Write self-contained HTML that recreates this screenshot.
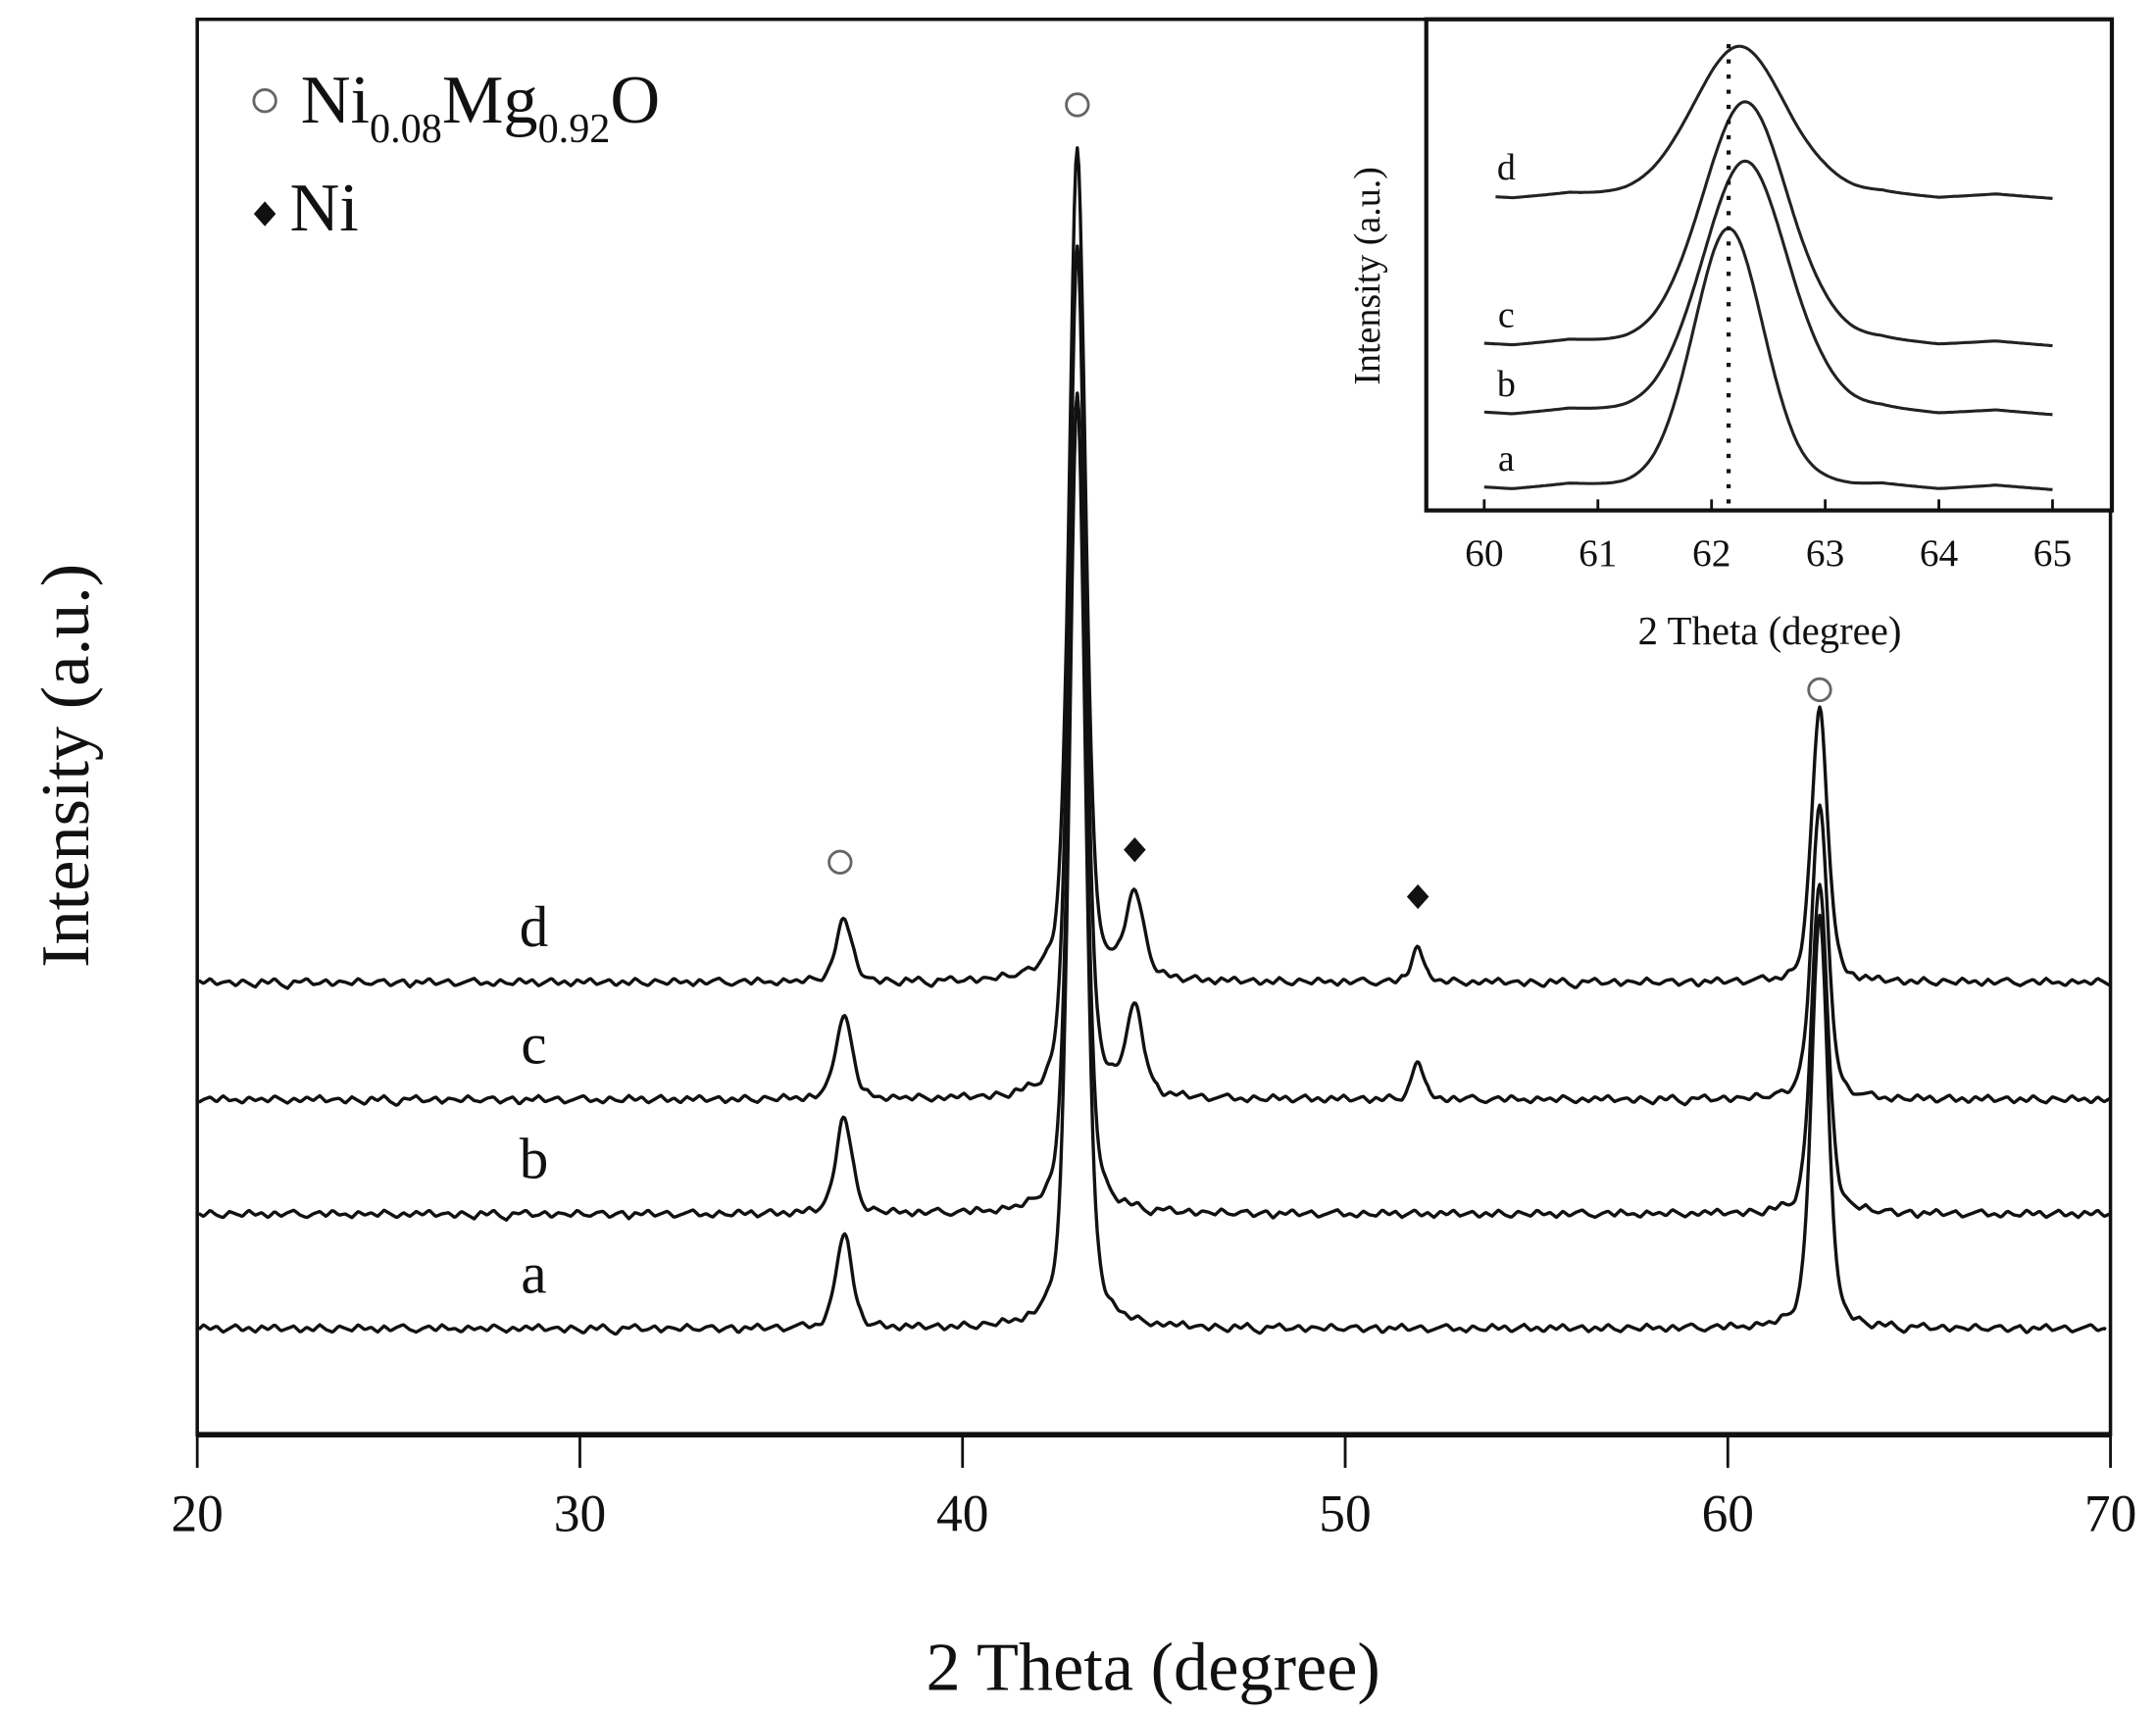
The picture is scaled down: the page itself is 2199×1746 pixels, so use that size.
<!DOCTYPE html>
<html><head><meta charset="utf-8"><style>
html,body{margin:0;padding:0;background:#fff}
svg{display:block}
text{font-family:"Liberation Serif",serif;fill:#111}
</style></head><body>
<svg id="chart" width="2199" height="1746" viewBox="0 0 1563 1241" preserveAspectRatio="none" xmlns="http://www.w3.org/2000/svg">
<rect x="0" y="0" width="1563" height="1241" fill="#fff"/>
<g id="main"></g>
<g id="inset"></g>
</svg>
<script>
// ---- main chart data ----
const seriesNames = ['a','b','c','d'];
const seriesOffsets = [963, 880, 797, 712];
const peakPositions = [36.9, 43.0, 44.5, 51.9, 62.4];
const peakHeightsA = [68, 678, 0, 0, 300];
const peakHeightsB = [70, 595, 0, 0, 240];
const peakHeightsC = [62, 617, 62, 28, 214];
const peakHeightsD = [45, 604, 62, 27, 198];
const peakWidths = [0.5, 0.5, 0.55, 0.35, 0.5];
const wiggle = [2,-3,1,-2,3,0,-3,2,-1,3,-2,1,-3,2,0,-2,3,-1,2,-3,1,3,-2,0,2,-3,1,-1,3,-2,2,-1,-3,1,3,0,-2,2,-3,1,0,3,-2,1,-1,2,-3,0,3,-1,2,-2,1,-3,2,0,-1,3,-2,1,4,-2,1,-3,2,5,-1,0,-3,2,1,-2,3,-1,0,2,-3,1,2,-1,-2,3,0,-2,4,-1,1,-3,2,0,-2,3,1,-1,-3,2,0,3,-2,1];
const xTicks = [20,30,40,50,60,70];
// ---- inset data ----
const insetNames = ['a','b','c','d'];
const insetBase = [354, 300, 250, 143];
const insetTop = [167, 118, 75, 35];
const insetCenter = [62.15, 62.3, 62.3, 62.25];
const insetWidth = [0.45, 0.55, 0.55, 0.6];
const insetStart = [60.0, 60.0, 60.0, 60.1];
const insetTicks = [60,61,62,63,64,65];

const NS='http://www.w3.org/2000/svg';
function mk(tag, attrs, parent){const e=document.createElementNS(NS,tag);for(const k in attrs)e.setAttribute(k,attrs[k]);parent.appendChild(e);return e;}
const X0=143, X1=1530, Y0=14, Y1=1040;
function xs(v){return X0+(v-20)/50*(X1-X0);}
const main=document.getElementById('main');
const heights=[peakHeightsA,peakHeightsB,peakHeightsC,peakHeightsD];
function lor(x,c,w){const d=(x-c)/w;return 1/(1+d*d);}
function pk(x,c,fw){const h=fw/2;return 0.6*Math.exp(-Math.LN2*Math.pow((x-c)/h,2))+0.4*lor(x,c,h);}
function wig(x,s){const t=(x-20)/50*(wiggle.length-1)*3+s*17;const i=Math.floor(t)%wiggle.length;const j=(i+1)%wiggle.length;const f=t-Math.floor(t);return wiggle[i]*(1-f)+wiggle[j]*f;}
for(let s=0;s<4;s++){
  let d='';
  const end = s===0?69.9:70;
  for(let x=20.04;x<=end+1e-9;x+=0.04){
    let y=seriesOffsets[s];
    for(let p=0;p<peakPositions.length;p++){y-=heights[s][p]*pk(x,peakPositions[p],peakWidths[p]);}
    y+=wig(x,s)*0.9;
    d+=(d?'L':'M')+xs(x).toFixed(1)+','+y.toFixed(1);
  }
  const path=mk('path',{d:d,fill:'none',stroke:'#111','stroke-width':2.4,'stroke-linejoin':'round'},main);
  
  
  const lab=mk('text',{x:387,y:seriesOffsets[s]-26,'font-size':42,'text-anchor':'middle'},main);
  lab.textContent=seriesNames[s];
  
  
}
const frame=mk('rect',{x:X0,y:Y0,width:X1-X0,height:Y1-Y0,fill:'none',stroke:'#111','stroke-width':2.5},main);


mk('line',{x1:X0,y1:Y1,x2:X1,y2:Y1,stroke:'#111','stroke-width':4},main);
for(const t of xTicks){
  const tk=mk('line',{x1:xs(t),y1:Y1,x2:xs(t),y2:Y1+24,stroke:'#111','stroke-width':2},main);
  
  
  const tl=mk('text',{x:xs(t),y:1110,'font-size':38,'text-anchor':'middle'},main);
  tl.textContent=t;
  
  
}
const xt=mk('text',{x:836,y:1225,'font-size':50,'text-anchor':'middle'},main);
xt.textContent='2 Theta (degree)';


const yt=mk('text',{x:0,y:0,'font-size':50,'text-anchor':'middle',transform:'translate(64,555) rotate(-90)'},main);
yt.textContent='Intensity (a.u.)';


const circlePeaks=[[36.8,625],[43.0,76],[62.4,500]];
for(const [px,py] of circlePeaks){
  const c=mk('circle',{cx:xs(px),cy:py,r:8,fill:'none',stroke:'#666','stroke-width':2},main);
  
  
}
const diaPeaks=[[44.5,616],[51.9,650]];
for(const [px,py] of diaPeaks){
  const x=xs(px);
  const dm=mk('path',{d:`M${x},${py-9}L${x+8},${py}L${x},${py+9}L${x-8},${py}Z`,fill:'#111'},main);
  
  
}
const lg=mk('g',{},main);


const lc=mk('circle',{cx:192,cy:73,r:8,fill:'none',stroke:'#666','stroke-width':2},lg);


const lt=mk('text',{x:218,y:89,'font-size':50},lg);
lt.innerHTML='Ni<tspan font-size="30" dy="14">0.08</tspan><tspan dy="-14">Mg</tspan><tspan font-size="30" dy="14">0.92</tspan><tspan dy="-14">O</tspan>';


const ld=mk('path',{d:'M192,146L200,155L192,164L184,155Z',fill:'#111'},lg);


const lt2=mk('text',{x:210,y:167,'font-size':50},lg);
lt2.textContent='Ni';



// ---- inset ----
const ins=document.getElementById('inset');
const IX0=1034, IX1=1531, IY0=14, IY1=370;
function ixs(v){return 1076+(v-60)*82.4;}
const ib=mk('rect',{x:IX0,y:IY0,width:IX1-IX0,height:IY1-IY0,fill:'#fff',stroke:'#111','stroke-width':3},ins);


const wigI=[0,1,0,-1,0,1,1,0,-1,-1,0,1,0,0,-1,0,1,0,-1,0,1];
for(let s=0;s<4;s++){
  let d='';
  const amp=insetBase[s]-insetTop[s];
  for(let x=insetStart[s];x<=65.0001;x+=0.02){
    const g=Math.exp(-Math.pow((x-insetCenter[s])/insetWidth[s],2)*1.0);
    const l=lor(x,insetCenter[s],insetWidth[s]*0.8);
    let y=insetBase[s]-amp*(0.8*g+0.2*l);
    const t=(x-60)/5*(wigI.length-1); const i=Math.floor(t), f=t-i;
    y+=1.5*(wigI[Math.min(i,wigI.length-1)]*(1-f)+wigI[Math.min(i+1,wigI.length-1)]*f);
    d+=(d?'L':'M')+ixs(x).toFixed(1)+','+y.toFixed(1);
  }
  const p=mk('path',{d:d,fill:'none',stroke:'#222','stroke-width':2.2},ins);
  
  
  const lb=mk('text',{x:1092,y:insetBase[s]-13,'font-size':27,'text-anchor':'middle'},ins);
  lb.textContent=insetNames[s];
  
  
}
const dl=mk('line',{x1:ixs(62.15),y1:32,x2:ixs(62.15),y2:368,stroke:'#111','stroke-width':3,'stroke-dasharray':'3,8'},ins);


for(const t of insetTicks){
  const tk=mk('line',{x1:ixs(t),y1:IY1-8,x2:ixs(t),y2:IY1,stroke:'#111','stroke-width':2},ins);
  
  
  const tl=mk('text',{x:ixs(t),y:410,'font-size':28,'text-anchor':'middle'},ins);
  tl.textContent=t;
  
  
}
const ixt=mk('text',{x:1283,y:467,'font-size':29,'text-anchor':'middle'},ins);
ixt.textContent='2 Theta (degree)';


const iyt=mk('text',{x:0,y:0,'font-size':27,'text-anchor':'middle',transform:'translate(1000,200) rotate(-90)'},ins);
iyt.textContent='Intensity (a.u.)';


</script>
</body></html>
